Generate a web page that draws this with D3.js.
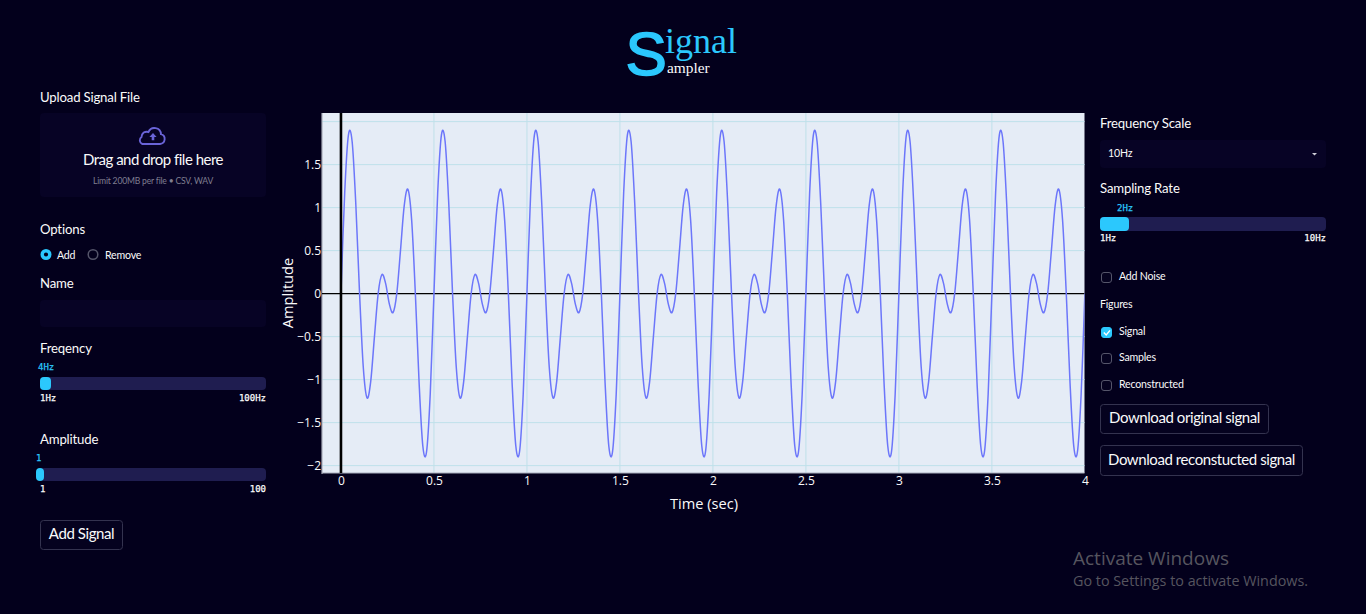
<!DOCTYPE html>
<html><head><meta charset="utf-8">
<script src="https://cdn.jsdelivr.net/npm/d3@7"></script>
<style>
html,body{margin:0;padding:0;background:#03001c;overflow:hidden}
svg{display:block}
</style></head><body>
<svg id="page" width="1366" height="614"></svg>
<script>
// Chart data
const timeStep = 0.02;
const amplitude = [
0,1.167,1.842,1.769,1.03,0,-0.857,-1.212,-1.02,-0.5,0,0.22,0.119,-0.119,-0.22,0,0.5,1.02,1.212,0.857,0,-1.03,-1.769,-1.842,-1.167,
0,1.167,1.842,1.769,1.03,0,-0.857,-1.212,-1.02,-0.5,0,0.22,0.119,-0.119,-0.22,0,0.5,1.02,1.212,0.857,0,-1.03,-1.769,-1.842,-1.167,
0,1.167,1.842,1.769,1.03,0,-0.857,-1.212,-1.02,-0.5,0,0.22,0.119,-0.119,-0.22,0,0.5,1.02,1.212,0.857,0,-1.03,-1.769,-1.842,-1.167,
0,1.167,1.842,1.769,1.03,0,-0.857,-1.212,-1.02,-0.5,0,0.22,0.119,-0.119,-0.22,0,0.5,1.02,1.212,0.857,0,-1.03,-1.769,-1.842,-1.167,
0,1.167,1.842,1.769,1.03,0,-0.857,-1.212,-1.02,-0.5,0,0.22,0.119,-0.119,-0.22,0,0.5,1.02,1.212,0.857,0,-1.03,-1.769,-1.842,-1.167,
0,1.167,1.842,1.769,1.03,0,-0.857,-1.212,-1.02,-0.5,0,0.22,0.119,-0.119,-0.22,0,0.5,1.02,1.212,0.857,0,-1.03,-1.769,-1.842,-1.167,
0,1.167,1.842,1.769,1.03,0,-0.857,-1.212,-1.02,-0.5,0,0.22,0.119,-0.119,-0.22,0,0.5,1.02,1.212,0.857,0,-1.03,-1.769,-1.842,-1.167,
0,1.167,1.842,1.769,1.03,0,-0.857,-1.212,-1.02,-0.5,0,0.22,0.119,-0.119,-0.22,0,0.5,1.02,1.212,0.857,0,-1.03,-1.769,-1.842,-1.167,
0];
const xTicks = [0,0.5,1,1.5,2,2.5,3,3.5,4];
const yTicks = [-2,-1.5,-1,-0.5,0,0.5,1,1.5];
const yGrid = [-2,-1.5,-1,-0.5,0.5,1,1.5,2];
const xGrid = [0.5,1,1.5,2,2.5,3,3.5];

const C = {bg:'#03001c',panel:'#070325',track:'#1f1d50',accent:'#2bc8fd',line:'#6c76fa',plot:'#e5ecf6',grid:'#bfe0ea',
  white:'#fafafa',border:'#34334f',ring:'#55556a'};
const UI = 'Lato,sans-serif', PLOT='"Open Sans",sans-serif', MONO='"DejaVu Sans Mono",monospace', SERIF='"Liberation Serif",serif';
const svg = d3.select('#page');
svg.append('rect').attr('width',1366).attr('height',614).attr('fill',C.bg);

function txt(s,x,y,o={}){
  const t = svg.append('text').text(s).attr('x',x).attr('y',y)
    .attr('font-family',o.f||UI).attr('font-size',o.s||13).attr('fill',o.c||C.white)
    .attr('text-anchor',o.a||'start').attr('font-weight',o.w||400);
  if(o.ls!==undefined) t.attr('letter-spacing',o.ls);
  if(o.f===MONO) t.attr('stroke',o.c||C.white).attr('stroke-width',0.25);
  return t;
}
function box(x0,y0,x1,y1,fill,r,stroke){
  return svg.append('rect').attr('x',x0).attr('y',y0).attr('width',x1-x0).attr('height',y1-y0)
    .attr('rx',r).attr('fill',fill).attr('stroke',stroke||'none');
}

// ---- plot ----
const L=322,R=1084.5,T=113,B=473;
const x = d3.scaleLinear().domain([-0.102,3.998]).range([L,R]);
const y = d3.scaleLinear().domain([-2.086,2.1]).range([B,T]);
box(L,T,R,B,C.plot,0);
const g = svg.append('g');
g.selectAll('.gy').data(yGrid).join('line').attr('x1',L).attr('x2',R).attr('y1',d=>y(d)).attr('y2',d=>y(d)).attr('stroke',C.grid).attr('stroke-width',1);
g.selectAll('.gx').data(xGrid).join('line').attr('y1',T).attr('y2',B).attr('x1',d=>x(d)).attr('x2',d=>x(d)).attr('stroke',C.grid).attr('stroke-width',1);
// plot frame (left, bottom)
g.append('line').attr('x1',L).attr('x2',L).attr('y1',T).attr('y2',B+1).attr('stroke','#a9adbb').attr('stroke-width',1.2);
g.append('line').attr('x1',L).attr('x2',R).attr('y1',B).attr('y2',B).attr('stroke','#a9adbb').attr('stroke-width',1.2);
// zero lines
g.append('line').attr('x1',L).attr('x2',R).attr('y1',y(0)).attr('y2',y(0)).attr('stroke','#000').attr('stroke-width',1.4);
// signal
const clipId='plotclip';
svg.append('clipPath').attr('id',clipId).append('rect').attr('x',L).attr('y',T).attr('width',R-L).attr('height',B-T);
const lineGen = d3.line().x((d,i)=>x(i*timeStep)).y(d=>y(d)).curve(d3.curveCatmullRom.alpha(0));
g.append('path').datum(amplitude).attr('d',lineGen).attr('fill','none').attr('stroke',C.line).attr('stroke-width',1.5).attr('clip-path',`url(#${clipId})`);
g.append('line').attr('y1',T).attr('y2',B).attr('x1',x(0)).attr('x2',x(0)).attr('stroke','#000').attr('stroke-width',2.6);
// axes
const fmt = d=>String(d).replace('-','\u2212');
const xAxis = d3.axisBottom(x).tickValues(xTicks).tickFormat(fmt).tickSize(0).tickPadding(0);
const yAxis = d3.axisLeft(y).tickValues(yTicks).tickFormat(fmt).tickSize(0).tickPadding(0);
const ax = svg.append('g').attr('transform',`translate(0,${B+3})`).call(xAxis);
const ay = svg.append('g').attr('transform',`translate(${L-1},0)`).call(yAxis);
[ax,ay].forEach(a=>{a.select('.domain').remove();
  a.selectAll('text').attr('font-family',PLOT).attr('font-size',12).attr('fill',C.white);});
txt('Time (sec)',704,509,{f:PLOT,s:14.6,a:'middle'});
txt('Amplitude',0,0,{f:PLOT,s:14.6,a:'middle'}).attr('transform','translate(293,293) rotate(-90)');

// ---- title ----
txt('S',625.5,75,{f:'"Liberation Sans",sans-serif',s:62,c:C.accent})
  .attr('stroke',C.accent).attr('stroke-width',1.6);
txt('ignal',665,53,{f:SERIF,s:36,c:C.accent});
txt('ampler',667,73,{f:SERIF,s:15.4});

// ---- left panel ----
const lab = {s:13.2,ls:-0.18};
const big = {s:15,ls:-0.42};
const small = {s:10.6,ls:-0.2};
txt('Upload Signal File',40,102,lab);
box(40,113,266,197,C.panel,4);
// cloud icon
svg.append('path').attr('d','M146.5 144 h13.5 a5 5 0 0 0 1 -9.8 a6.5 6.5 0 0 0 -12.5 -2.2 a6 6 0 0 0 -4.8 0.5 a6 6 0 0 0 -2.2 4.5 a4 4 0 0 0 0.8 7 z')
  .attr('fill','none').attr('stroke','#6a64d8').attr('stroke-width',1.9);
svg.append('path').attr('d','M153 133 l3.6 4 h-2.3 v3.2 h-2.6 v-3.2 h-2.3 z').attr('fill','#6a64d8');
txt('Drag and drop file here',153,165,{...big,a:'middle',ls:-0.5});
txt('Limit 200MB per file \u2022 CSV, WAV',153,183.5,{s:8.6,a:'middle',c:'#7f7e90',ls:-0.2});
txt('Options',40,234,lab);
svg.append('circle').attr('cx',46).attr('cy',254.5).attr('r',5.5).attr('fill',C.accent);
svg.append('circle').attr('cx',46).attr('cy',254.5).attr('r',2.1).attr('fill',C.bg);
txt('Add',57,258.5,small);
svg.append('circle').attr('cx',93).attr('cy',254.5).attr('r',4.8).attr('fill','none').attr('stroke',C.ring).attr('stroke-width',1.5);
txt('Remove',105,258.5,small);
txt('Name',40,288,lab);
box(40,300,266,327,C.panel,4);
txt('Freqency',40,353,lab);
const mono={f:MONO,s:9};
txt('4Hz',38,370,{...mono,c:C.accent});
box(40,377,266,390,C.track,4);
box(40,377,51,390,C.accent,4);
txt('1Hz',40,400.5,mono);
txt('100Hz',266,400.5,{...mono,a:'end'});
txt('Amplitude',40,444,lab);
txt('1',36,461,{...mono,c:C.accent});
box(40,468,266,481,C.track,4);
box(36,468,44,481,C.accent,4);
txt('1',40,491.5,mono);
txt('100',266,491.5,{...mono,a:'end'});
box(40.5,520.5,122.5,549.5,'#05021f',3,C.border);
txt('Add Signal',81.5,539,{...big,a:'middle'});

// ---- right panel ----
txt('Frequency Scale',1100,128,lab);
box(1100,140,1326,168,C.panel,4);
txt('10Hz',1108,156.5,small);
svg.append('path').attr('d','M1312 153 h5 l-2.5 2.5 z').attr('fill','#cfcfd8');
txt('Sampling Rate',1100,193,lab);
txt('2Hz',1117,211,{...mono,c:C.accent});
box(1100,217,1326,231,C.track,4);
box(1100,217,1129,231,C.accent,4);
txt('1Hz',1100,241,mono);
txt('10Hz',1326,241,{...mono,a:'end'});
function check(y0,on){
  box(1101.5,y0+0.5,1111.5,y0+10.5,on?C.accent:'#05021f',2.5,on?C.accent:C.ring);
  if(on) svg.append('path').attr('d',`M1103.8 ${y0+5.5} l2.4 2.5 l3.8 -4.6`).attr('fill','none').attr('stroke','#fff').attr('stroke-width',1.4);
}
check(272,false); txt('Add Noise',1119,280,small);
txt('Figures',1100,308,small);
check(327,true); txt('Signal',1119,335,small);
check(353,false); txt('Samples',1119,361,small);
check(380,false); txt('Reconstructed',1119,388,small);
box(1100.5,404.5,1268.5,433.5,'#05021f',3,C.border);
txt('Download original signal',1184.5,423,{...big,a:'middle'});
box(1100.5,445.5,1302.5,475.5,'#05021f',3,C.border);
txt('Download reconstucted signal',1201.5,465,{...big,a:'middle'});

// ---- watermark ----
txt('Activate Windows',1073,565,{f:'"Open Sans",sans-serif',s:19,c:'#56555f'});
txt('Go to Settings to activate Windows.',1073,586,{f:'"Open Sans",sans-serif',s:14.35,c:'#56555f'});
</script>
</body></html>
